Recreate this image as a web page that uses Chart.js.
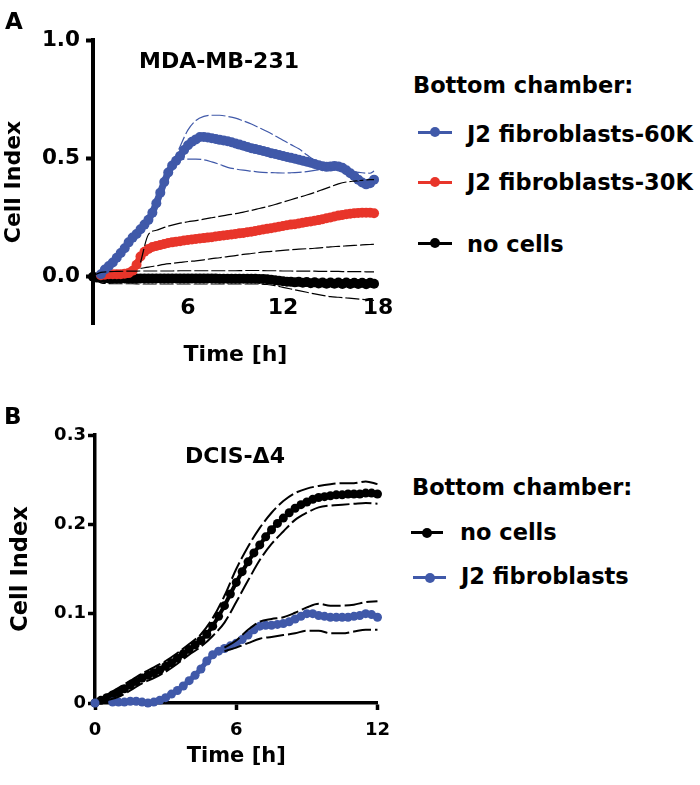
<!DOCTYPE html>
<html>
<head>
<meta charset="utf-8">
<script src="https://cdn.jsdelivr.net/npm/chart.js@4.4.1/dist/chart.umd.min.js"></script>
<style>
  body { margin: 0; background: #fff; }
  #page { position: relative; width: 700px; height: 785px; overflow: hidden; font-family: "DejaVu Sans", sans-serif; font-weight: bold; color: #000; }
  canvas { position: absolute; left: 0; }
  .txt { position: absolute; white-space: nowrap; line-height: 1; }
  .mid { transform: translateX(-50%); }
  .key { position: absolute; }
  .key i { position: absolute; left: 50%; top: 50%; border-radius: 50%; }
</style>
</head>
<body>
<div id="page">
  <canvas id="chartA" width="400" height="380" style="top:0"></canvas>
  <canvas id="chartB" width="400" height="385" style="top:400px"></canvas>

  <div class="txt" style="left:5px;top:10px;font-size:23px">A</div>
  <div class="txt mid" style="left:219px;top:50px;font-size:22px">MDA-MB-231</div>
  <div class="txt" style="left:413px;top:74px;font-size:22.5px">Bottom chamber:</div>
  <div class="key" style="left:418px;top:131px;width:34px;height:2.5px;background:#4059a9"><i style="width:10px;height:10px;margin:-5px 0 0 -5px;background:#4059a9"></i></div>
  <div class="txt" style="left:467px;top:123px;font-size:22.5px">J2 fibroblasts-60K</div>
  <div class="key" style="left:418px;top:181px;width:34px;height:2.5px;background:#e8352a"><i style="width:10px;height:10px;margin:-5px 0 0 -5px;background:#e8352a"></i></div>
  <div class="txt" style="left:467px;top:171px;font-size:22.5px">J2 fibroblasts-30K</div>
  <div class="key" style="left:418px;top:242px;width:34px;height:2.5px;background:#000"><i style="width:10px;height:10px;margin:-5px 0 0 -5px;background:#000"></i></div>
  <div class="txt" style="left:467px;top:233px;font-size:22.5px">no cells</div>

  <div class="txt" style="left:4px;top:405px;font-size:23px">B</div>
  <div class="txt mid" style="left:235px;top:445px;font-size:22px">DCIS-Δ4</div>
  <div class="txt" style="left:412px;top:476px;font-size:22.5px">Bottom chamber:</div>
  <div class="key" style="left:411px;top:531px;width:32px;height:3px;background:#000"><i style="width:10px;height:10px;margin:-5px 0 0 -5px;background:#000"></i></div>
  <div class="txt" style="left:460px;top:521px;font-size:22.5px">no cells</div>
  <div class="key" style="left:413px;top:576px;width:33px;height:3px;background:#4059a9"><i style="width:10px;height:10px;margin:-5px 0 0 -5px;background:#4059a9"></i></div>
  <div class="txt" style="left:461px;top:565px;font-size:22.5px">J2 fibroblasts</div>
</div>

<script>
// ---- panel A: MDA-MB-231, cell index vs time (h) ----
const hoursA = [0,0.25,0.5,0.75,1,1.25,1.5,1.75,2,2.25,2.5,2.75,3,3.25,3.5,3.75,4,4.25,4.5,4.75,
  5,5.25,5.5,5.75,6,6.25,6.5,6.75,7,7.25,7.5,7.75,8,8.25,8.5,8.75,9,9.25,9.5,9.75,
  10,10.25,10.5,10.75,11,11.25,11.5,11.75,12,12.25,12.5,12.75,13,13.25,13.5,13.75,14,14.25,14.5,14.75,
  15,15.25,15.5,15.75,16,16.25,16.5,16.75,17,17.25,17.5,17.75];

const fibro60kA = [null,null,0.01,0.03,0.045,0.06,0.08,0.10,0.12,0.145,
  0.165,0.18,0.20,0.22,0.24,0.27,0.31,0.355,0.40,0.44,
  0.47,0.49,0.51,0.535,0.555,0.57,0.58,0.59,0.59,0.588,
  0.585,0.582,0.578,0.575,0.572,0.568,0.563,0.558,0.553,0.548,
  0.543,0.539,0.535,0.531,0.527,0.522,0.518,0.514,0.51,0.506,
  0.502,0.498,0.494,0.49,0.486,0.481,0.476,0.471,0.467,0.464,
  0.465,0.468,0.466,0.46,0.45,0.437,0.425,0.41,0.398,0.39,
  0.395,0.41];

const fibro30kA = [null,null,0.006,0.008,0.01,0.01,0.01,0.01,0.012,0.015,
  0.025,0.05,0.085,0.105,0.117,0.125,0.13,0.134,0.138,0.142,
  0.145,0.148,0.15,0.153,0.155,0.157,0.159,0.161,0.163,0.165,
  0.167,0.17,0.172,0.174,0.176,0.178,0.18,0.183,0.185,0.188,
  0.19,0.193,0.196,0.199,0.202,0.205,0.208,0.211,0.214,0.217,
  0.22,0.222,0.225,0.228,0.231,0.233,0.236,0.239,0.243,0.247,
  0.25,0.254,0.258,0.261,0.264,0.266,0.268,0.269,0.27,0.27,
  0.27,0.268];

const noCellsA = [0,-0.004,-0.006,-0.007,-0.008,-0.008,-0.008,-0.008,-0.008,-0.008,
  -0.008,-0.008,-0.008,-0.008,-0.008,-0.008,-0.008,-0.008,-0.008,-0.008,
  -0.008,-0.008,-0.008,-0.008,-0.008,-0.008,-0.008,-0.008,-0.008,-0.008,
  -0.008,-0.008,-0.009,-0.009,-0.009,-0.009,-0.009,-0.009,-0.009,-0.009,
  -0.009,-0.009,-0.01,-0.01,-0.011,-0.013,-0.015,-0.017,-0.019,-0.021,
  -0.022,-0.024,-0.022,-0.026,-0.023,-0.028,-0.024,-0.029,-0.025,-0.03,
  -0.025,-0.03,-0.025,-0.031,-0.025,-0.031,-0.026,-0.031,-0.026,-0.032,
  -0.026,-0.03];

// mean ± SD envelopes, read every half hour
const bandHoursA = [0,0.5,1,1.5,2,2.5,3,3.5,4,4.5,5,5.5,6,6.5,7,7.5,8,8.5,9,9.5,
  10,10.5,11,11.5,12,12.5,13,13.5,14,14.5,15,15.5,16,16.5,17,17.5,17.75];

const fibro60kUpperA = [null,null,null,null,null,null,null,null,null,null,
  0.47,0.55,0.62,0.66,0.677,0.682,0.682,0.677,0.67,0.658,
  0.645,0.629,0.613,0.595,0.576,0.558,0.54,0.515,0.49,0.472,
  0.462,0.455,0.448,0.443,0.439,0.437,0.446];
const fibro60kLowerA = [null,null,null,null,null,null,null,null,null,null,
  0.47,0.494,0.497,0.497,0.494,0.485,0.474,0.462,0.455,0.45,
  0.446,0.442,0.44,0.439,0.438,0.439,0.441,0.444,0.449,0.455,
  0.458,0.452,0.438,0.418,0.398,0.386,0.384];
const fibro30kUpperA = [null,null,null,null,null,null,
  0.06,0.178,0.196,0.208,0.218,0.226,0.232,0.237,0.243,0.249,0.255,0.261,0.266,0.273,
  0.28,0.288,0.296,0.305,0.315,0.325,0.335,0.345,0.356,0.368,
  0.38,0.392,0.4,0.404,0.407,0.41,0.41];
const fibro30kLowerA = [null,null,null,null,null,null,
  0.035,0.04,0.046,0.052,0.056,0.06,0.064,0.067,0.071,0.076,0.08,0.085,0.089,0.094,
  0.098,0.102,0.106,0.108,0.111,0.114,0.116,0.118,0.12,0.123,
  0.126,0.128,0.13,0.132,0.134,0.136,0.137];
const noCellsUpperA = [0.004,0.018,0.021,0.022,0.023,0.023,0.024,0.024,0.024,0.024,
  0.024,0.025,0.025,0.025,0.025,0.025,0.025,0.025,0.025,0.026,
  0.026,0.026,0.025,0.025,0.024,0.024,0.023,0.023,0.023,0.022,
  0.022,0.022,0.021,0.021,0.021,0.02,0.02];
const noCellsLowerA = [-0.006,-0.026,-0.029,-0.03,-0.03,-0.03,-0.031,-0.031,-0.031,-0.031,
  -0.031,-0.031,-0.031,-0.031,-0.031,-0.031,-0.031,-0.031,-0.031,-0.031,
  -0.031,-0.031,-0.033,-0.038,-0.045,-0.052,-0.059,-0.066,-0.073,-0.079,
  -0.084,-0.087,-0.09,-0.093,-0.096,-0.099,-0.1];

const xTicksA = [6, 12, 18];
const yTicksA = [0, 0.5, 1.0];

// ---- panel B: DCIS-Δ4 ----
const hoursB = [0,0.25,0.5,0.75,1,1.25,1.5,1.75,2,2.25,2.5,2.75,3,3.25,3.5,3.75,4,4.25,4.5,4.75,
  5,5.25,5.5,5.75,6,6.25,6.5,6.75,7,7.25,7.5,7.75,8,8.25,8.5,8.75,9,9.25,9.5,9.75,
  10,10.25,10.5,10.75,11,11.25,11.5,11.75,12];

const noCellsB = [0,0.003,0.006,0.009,0.012,0.016,0.02,0.024,0.028,0.031,
  0.034,0.037,0.041,0.045,0.05,0.055,0.06,0.065,0.07,0.077,
  0.086,0.097,0.109,0.122,0.135,0.147,0.158,0.168,0.177,0.186,
  0.194,0.201,0.207,0.213,0.218,0.222,0.225,0.228,0.23,0.231,
  0.232,0.233,0.233,0.234,0.234,0.234,0.235,0.235,0.234];

const fibroB = [0,null,null,0.001,0.001,0.001,0.002,0.002,0.001,0,
  0.001,0.003,0.006,0.01,0.014,0.019,0.025,0.031,0.038,0.047,
  0.054,0.058,0.061,0.064,0.067,0.071,0.076,0.082,0.086,0.087,
  0.087,0.088,0.089,0.091,0.094,0.097,0.1,0.1,0.098,0.097,
  0.096,0.096,0.096,0.096,0.097,0.098,0.1,0.099,0.096];

const bandHoursB = [0,0.5,1,1.5,2,2.5,3,3.5,4,4.5,5,5.5,6,6.5,7,7.5,8,8.5,9,9.5,10,10.5,11,11.5,12];
const noCellsUpperB = [null,0.009,0.017,0.025,0.033,0.04,0.047,0.056,0.066,0.077,
  0.095,0.12,0.15,0.175,0.196,0.213,0.226,0.235,0.24,0.243,
  0.245,0.246,0.246,0.248,0.245];
const noCellsLowerB = [null,0.003,0.007,0.014,0.022,0.028,0.035,0.044,0.054,0.063,
  0.075,0.09,0.113,0.137,0.16,0.178,0.192,0.205,0.213,0.219,
  0.221,0.222,0.223,0.224,0.223];
const fibroUpperB = [null,null,null,null,null,null,null,null,null,null,null,
  0.062,0.07,0.082,0.091,0.094,0.096,0.101,0.107,0.111,0.109,0.109,0.11,0.113,0.114];
const fibroLowerB = [null,null,null,null,null,null,null,null,null,null,null,
  0.058,0.062,0.067,0.072,0.074,0.076,0.078,0.081,0.081,0.078,0.078,0.08,0.082,0.082];

const xTicksB = [0, 6, 12];
const yTicksB = [0, 0.1, 0.2, 0.3];

const BLUE = "#4059a9";
const RED = "#e8352a";
const BLACK = "#000";

Chart.defaults.font.family = "DejaVu Sans";
Chart.defaults.font.weight = "bold";
Chart.defaults.color = BLACK;

const pts = (xs, ys) => xs.map((x, i) => ({ x, y: ys[i] }));

// mean curve: dense dots joined by a thick line of the same colour
function meanSet(xs, ys, color, r, w) {
    return {
        data: pts(xs, ys), borderColor: color, backgroundColor: color,
        borderWidth: w, pointRadius: r, pointBorderWidth: 0, pointHoverRadius: r,
        clip: false, tension: 0
    };
}

function bandSet(xs, ys, color, width, dash) {
    return {
        data: pts(xs, ys), borderColor: color, borderWidth: width, borderDash: dash,
        pointRadius: 0, pointHoverRadius: 0, clip: false, cubicInterpolationMode: "monotone"
    };
}

const font = (size) => ({ family: "DejaVu Sans", size, weight: "bold" });

// panel A
new Chart(document.getElementById("chartA"), {
    type: "line",
    data: {
        datasets: [
            bandSet(bandHoursA, fibro60kUpperA, BLUE, 1.2, [14, 3]),
            bandSet(bandHoursA, fibro60kLowerA, BLUE, 1.2, [14, 3]),
            bandSet(bandHoursA, fibro30kUpperA, BLACK, 1.2, [14, 3]),
            bandSet(bandHoursA, fibro30kLowerA, BLACK, 1.2, [14, 3]),
            bandSet(bandHoursA, noCellsUpperA, BLACK, 1.2, [14, 3]),
            bandSet(bandHoursA, noCellsLowerA, BLACK, 1.2, [14, 3]),
            meanSet(hoursA, fibro60kA, BLUE, 5, 7),
            meanSet(hoursA, fibro30kA, RED, 5, 7),
            meanSet(hoursA, noCellsA, BLACK, 5, 7),
        ]
    },
    options: {
        responsive: false,
        animation: false,
        layout: { padding: { top: 40, right: 22, bottom: 8, left: 0 } },
        plugins: { legend: { display: false }, tooltip: { enabled: false } },
        scales: {
            x: {
                type: "linear", min: 0, max: 18,
                afterBuildTicks: (s) => { s.ticks = xTicksA.map(v => ({ value: v })); },
                // tick labels sit inside the plot, so do not clip them to the axis box
                afterFit: (s) => { s.height = 48; s._computeLabelArea = () => undefined; },
                grid: { display: false, drawTicks: false },
                border: { display: false },
                ticks: { padding: -29, font: font(22), color: BLACK },
                title: { display: true, text: "Time [h]", font: font(22), color: BLACK, padding: { top: 0, bottom: 4 } }
            },
            y: {
                type: "linear", min: -0.2, max: 1.0,
                afterBuildTicks: (s) => { s.ticks = yTicksA.map(v => ({ value: v })); },
                afterFit: (s) => { s.width = 93; },
                grid: { drawOnChartArea: false, drawTicks: true, tickLength: 7, tickWidth: 4, tickColor: BLACK },
                border: { display: true, color: BLACK, width: 4 },
                ticks: { padding: 6, font: font(21.5), color: BLACK, callback: (v) => v.toFixed(1) },
                title: { display: true, text: "Cell Index", font: font(22), color: BLACK, padding: { top: 1, bottom: 0 } }
            }
        }
    }
});

// panel B
new Chart(document.getElementById("chartB"), {
    type: "line",
    data: {
        datasets: [
            bandSet(bandHoursB, noCellsUpperB, BLACK, 2, [18, 4]),
            bandSet(bandHoursB, noCellsLowerB, BLACK, 2, [18, 4]),
            bandSet(bandHoursB, fibroUpperB, BLACK, 2, [18, 4]),
            bandSet(bandHoursB, fibroLowerB, BLACK, 2, [18, 4]),
            meanSet(hoursB, fibroB, BLUE, 4.5, 5),
            meanSet(hoursB, noCellsB, BLACK, 4.5, 4),
        ]
    },
    options: {
        responsive: false,
        animation: false,
        layout: { padding: { top: 35, right: 18, bottom: 12, left: 0 } },
        plugins: { legend: { display: false }, tooltip: { enabled: false } },
        scales: {
            x: {
                type: "linear", min: 0, max: 12,
                afterBuildTicks: (s) => { s.ticks = xTicksB.map(v => ({ value: v })); },
                afterFit: (s) => { s.height = 70; },
                grid: { drawOnChartArea: false, drawTicks: true, tickLength: 7, tickWidth: 3.5, tickColor: BLACK },
                border: { display: true, color: BLACK, width: 3.5 },
                ticks: { padding: 10, font: font(18), color: BLACK },
                title: { display: true, text: "Time [h]", font: font(21), color: BLACK, padding: { top: 0, bottom: 4 } }
            },
            y: {
                type: "linear", min: 0, max: 0.3,
                afterBuildTicks: (s) => { s.ticks = yTicksB.map(v => ({ value: v })); },
                afterFit: (s) => { s.width = 95; },
                grid: { drawOnChartArea: false, drawTicks: true, tickLength: 7, tickWidth: 3.5, tickColor: BLACK },
                border: { display: true, color: BLACK, width: 3.5 },
                ticks: { padding: 2, font: font(18), color: BLACK, callback: (v) => (v === 0 ? "0" : v.toFixed(1)) },
                title: { display: true, text: "Cell Index", font: font(22.5), color: BLACK, padding: { top: 8, bottom: 0 } }
            }
        }
    }
});
</script>
</body>
</html>
